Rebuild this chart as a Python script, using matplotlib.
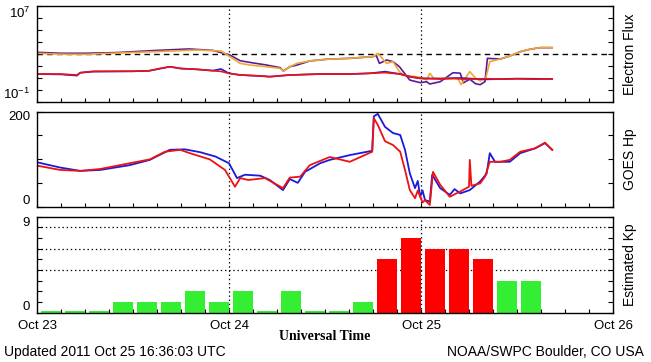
import numpy as np
import matplotlib
matplotlib.use("Agg")
import matplotlib.pyplot as plt

plt.rcParams['font.family'] = ['Liberation Sans', 'DejaVu Sans']
plt.rcParams['mathtext.default'] = 'regular'
plt.rcParams['lines.scale_dashes'] = False

#%% data (hours since Oct 23 00 UT)
# electron flux, log10 values, upper pair (orange / purple) and lower pair (red / blue)
t_orange = [0, 3, 6, 10, 15, 20, 23, 24.1, 25.4, 26.6, 28.7, 30.4, 30.8, 31.6, 32.5, 34.1, 36.2, 39.1, 42, 42.6, 43.7, 44.5, 45.3, 45.8, 46.6, 47.9, 48.7, 49.1, 49.6, 50.4, 51.9, 52.6, 53, 54.1, 54.8, 55.4, 56.1, 56.6, 57.9, 59.1, 60.4, 61.6, 62.9, 64.4]
y_orange = [3.06, 2.98, 2.97, 3.08, 3.2, 3.33, 3.25, 2.78, 2.22, 2.08, 1.94, 1.8, 1.58, 1.94, 2.22, 2.42, 2.56, 2.64, 2.78, 3.06, 2.22, 2.36, 1.53, 1.25, 1.17, 1.06, 0.83, 1.39, 0.97, 0.97, 1.0, 0.97, 0.45, 1.53, 1.0, 0.75, 1.0, 2.36, 2.58, 2.83, 3.19, 3.39, 3.53, 3.53]
t_purple = [0, 3, 6, 10, 15, 19, 22, 24.1, 25.4, 26.6, 28.7, 30.4, 30.8, 31.6, 32.5, 34.1, 36.2, 39.1, 42, 42.4, 42.8, 43.7, 44.5, 45.3, 46.6, 47.9, 48.7, 49.1, 50.4, 52, 52.9, 53.3, 54.1, 54.8, 55.4, 56, 56.3, 57.9, 59.1, 60.4, 61.6, 62.9, 64.4]
y_purple = [3.14, 3.06, 3.06, 3.12, 3.3, 3.42, 3.3, 2.92, 2.44, 2.3, 2.08, 1.86, 1.58, 1.94, 2.08, 2.42, 2.56, 2.64, 2.78, 2.9, 2.22, 2.5, 2.36, 1.94, 0.83, 0.61, 0.69, 0.5, 0.69, 1.44, 1.4, 0.6, 0.9, 0.53, 0.44, 0.7, 2.64, 2.58, 2.83, 3.19, 3.39, 3.53, 3.53]
t_red_e = [0, 3, 5, 5.4, 7, 12, 14, 15.4, 16.6, 18, 20, 22, 23, 24, 25.4, 27.9, 29.1, 31.6, 35.4, 39.1, 41.6, 43.5, 45.4, 46.6, 47.9, 50.4, 52, 54, 56, 58, 60, 62, 64.4]
y_red_e = [1.33, 1.33, 1.25, 1.44, 1.56, 1.56, 1.6, 1.8, 1.94, 1.8, 1.72, 1.6, 1.55, 1.39, 1.25, 1.17, 1.11, 1.25, 1.33, 1.33, 1.39, 1.45, 1.33, 1.11, 0.97, 0.92, 0.95, 0.9, 0.94, 0.9, 0.93, 0.9, 0.92]
t_blue_e = [0, 3, 5, 5.4, 7, 12, 14, 15.4, 16.6, 18, 20, 22, 23, 24, 25.4, 27.9, 29.1, 31.6, 35.4, 39.1, 41.6, 43.5, 45.4, 46.6, 47.9, 50.4, 53, 56, 60, 64.4]
y_blue_e = [1.33, 1.3, 1.2, 1.44, 1.53, 1.56, 1.6, 1.78, 1.94, 1.78, 1.72, 1.62, 1.75, 1.39, 1.25, 1.17, 1.11, 1.25, 1.33, 1.33, 1.39, 1.53, 1.33, 1.11, 0.97, 0.95, 1.0, 0.88, 0.95, 0.92]

# GOES Hp (nT)
t_hp_blue = [0, 2.9, 5.4, 7.9, 11.6, 14.1, 16.6, 18.5, 20.4, 22.3, 24, 25, 26, 27.9, 29.1, 30.75, 31.6, 32.6, 33.5, 35.4, 36.6, 39.1, 41.9, 42.1, 42.6, 43.5, 44.5, 45.4, 46, 46.6, 47.25, 47.6, 47.9, 48.2, 48.5, 49.1, 49.4, 50.4, 51.6, 52.2, 52.9, 54.1, 55.4, 56.2, 56.6, 57.25, 59.1, 60.4, 62.25, 63.5, 64.4]
hp_blue = [94, 83, 76, 78, 88, 99, 120, 121, 115, 106, 92, 61, 68, 66, 57, 36, 59, 51, 74, 92, 99, 109, 118, 190, 195, 168, 155, 151, 120, 71, 40, 55, 22, 35, 15, 12, 68, 40, 26, 38, 29, 36, 54, 70, 113, 95, 95, 113, 123, 134, 120]
t_hp_red = [0, 2.9, 5.4, 7.9, 11.6, 14.1, 16, 17.9, 19.1, 21.6, 23.5, 24.75, 25.4, 26.4, 28.5, 30.75, 31.6, 32.9, 34.1, 36.6, 39.1, 41.9, 42.1, 42.6, 43.5, 44.5, 45.4, 46, 46.6, 47.25, 47.6, 47.9, 48.2, 48.5, 49.1, 49.5, 50.4, 51.6, 52.9, 54, 54.1, 54.3, 55.4, 56, 56.6, 57.9, 59.1, 60.4, 62.25, 63.5, 64.4]
hp_red = [87, 78, 76, 80, 92, 100, 116, 120, 113, 100, 78, 43, 61, 57, 61, 40, 62, 64, 88, 105, 95, 116, 186, 172, 138, 130, 116, 78, 36, 19, 35, 22, 10, 15, 5, 74, 47, 22, 33, 43, 99, 45, 50, 64, 95, 95, 99, 116, 123, 135, 120]

# estimated Kp, 3-hour bins starting Oct 23 00 UT
kp = [0, 0, 0, 1, 1, 1, 2, 1, 2, 0, 2, 0, 0, 1, 5, 7, 6, 6, 5, 3, 3]

day_labels = ['Oct 23', 'Oct 24', 'Oct 25', 'Oct 26']

#%% figure
fig = plt.figure(figsize=(6.51, 3.62), dpi=100)
W, H = 651.0, 362.0
left, right = 37, 613

def panel(top, bottom):
    return fig.add_axes([left / W, 1 - bottom / H, (right - left) / W, (bottom - top) / H])

ax1 = panel(6, 102)
ax2 = panel(111.5, 207.3)
ax3 = panel(216.7, 312.7)

dot = (0, (1, 2))
for ax in (ax1, ax2, ax3):
    ax.set_xlim(0, 72)
    ax.set_xticks([0, 24, 48, 72])
    ax.set_xticks(np.arange(0, 73, 3), minor=True)
    ax.tick_params(axis='x', which='both', direction='in', length=3, width=0.8,
                   top=False, labelbottom=False)
    ax.tick_params(axis='y', which='both', direction='in', length=3.8, width=0.8,
                   left=True, right=True, labelright=False, pad=5, labelsize=9.5)
    for s in ax.spines.values():
        s.set_linewidth(1.0)
    for d in (24, 48):
        ax.axvline(d, color='k', lw=0.9, linestyle=dot, zorder=1)

# electron flux
ax1.set_yscale('log')
ax1.set_ylim(1e-1, 1e7)
ax1.set_yticks([10.0 ** k for k in range(-1, 8)])
ax1.set_yticklabels(['$10^{-1}$'] + [''] * 7 + ['$10^{7}$'])
ax1.yaxis.set_minor_locator(matplotlib.ticker.NullLocator())
ax1.axhline(1e3, color='k', lw=1.0, dashes=(4, 3))
ax1.plot(t_purple, 10 ** np.array(y_purple), color='#5a1a9a', lw=1.2)
ax1.plot(t_orange, 10 ** np.array(y_orange), color='#f0a830', lw=1.2)
ax1.plot(t_blue_e, 10 ** np.array(y_blue_e), color='#1a1adb', lw=1.2)
ax1.plot(t_red_e, 10 ** np.array(y_red_e), color='#ee1111', lw=1.2)

# GOES Hp
ax2.set_ylim(0, 200)
ax2.set_yticks([0, 50, 100, 150, 200])
ax2.set_yticklabels(['0', '', '', '', '200'])
ax2.plot(t_hp_blue, hp_blue, color='#1a1adb', lw=1.3)
ax2.plot(t_hp_red, hp_red, color='#ee1111', lw=1.3)

# Kp
kp = np.array(kp)
ax3.set_ylim(0, 9)
ax3.set_yticks(range(10))
ax3.set_yticklabels(['0'] + [''] * 8 + ['9'])
for lev in (4, 6, 8):
    ax3.axhline(lev, color='k', lw=0.9, linestyle=dot, zorder=1)
bar_colors = ['#ff0000' if k >= 5 else '#33ee33' for k in kp]
ax3.bar(np.arange(len(kp)) * 3 + 0.55, np.where(kp == 0, 0.2, kp), width=2.45,
        align='edge', color=bar_colors, zorder=2)
ax3.tick_params(axis='x', which='major', labelbottom=True, pad=5, labelsize=9.5)
ax3.set_xticklabels(day_labels)

for ax in (ax1, ax2, ax3):
    labs = ax.get_yticklabels()
    labs[0].set_va('bottom')
    labs[-1].set_va('top')

# right-hand titles
fig.text(630 / W, 1 - 54 / H, 'Electron Flux', rotation=90, ha='center', va='center', fontsize=10)
fig.text(630 / W, 1 - 159 / H, 'GOES Hp', rotation=90, ha='center', va='center', fontsize=10)
fig.text(630 / W, 1 - 265 / H, 'Estimated Kp', rotation=90, ha='center', va='center', fontsize=10)

fig.text(325 / W, 1 - 337 / H, 'Universal Time', ha='center', va='center',
         fontsize=10, fontweight='bold', family='Liberation Serif')
fig.text(4 / W, 1 - 352 / H, 'Updated 2011 Oct 25 16:36:03 UTC', ha='left', va='center', fontsize=10)
fig.text(644 / W, 1 - 352 / H, 'NOAA/SWPC Boulder, CO USA', ha='right', va='center', fontsize=10)

fig.savefig('out.png', dpi=100)
